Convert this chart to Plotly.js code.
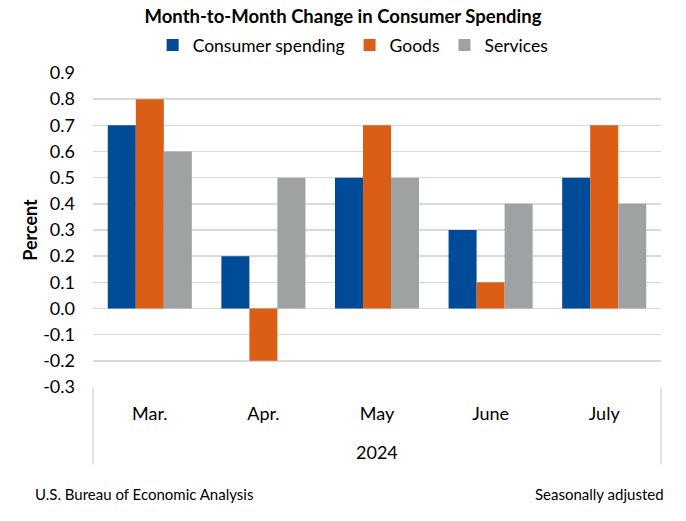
<!DOCTYPE html>
<html>
<head>
<meta charset="utf-8">
<script src="https://cdn.plot.ly/plotly-3.0.1.min.js"></script>
<style>html,body{margin:0;padding:0;background:#fff;}#chart{width:686px;height:521px;}</style>
</head>
<body>
<div id="chart"></div>
<script>
const months = ["Mar.", "Apr.", "May", "June", "July"];
const consumerSpending = [0.7, 0.2, 0.5, 0.3, 0.5];
const goods = [0.8, -0.2, 0.7, 0.1, 0.7];
const services = [0.6, 0.5, 0.5, 0.4, 0.4];
const yTicks = [-0.3, -0.2, -0.1, 0.0, 0.1, 0.2, 0.3, 0.4, 0.5, 0.6, 0.7, 0.8, 0.9];
const yearLabel = "2024";

const FONT = "Lato, 'Open Sans', sans-serif";
const traces = [
  {type: "bar", name: "Consumer spending", x: months, y: consumerSpending, marker: {color: "#004B98"}},
  {type: "bar", name: "Goods", x: months, y: goods, marker: {color: "#DA5E16"}},
  {type: "bar", name: "Services", x: months, y: services, marker: {color: "#9FA2A3"}}
];
const layout = {
  width: 686, height: 521,
  margin: {l: 93, r: 25, t: 73, b: 134},
  paper_bgcolor: "#fff", plot_bgcolor: "#fff",
  font: {family: FONT, color: "#000", size: 18},
  title: {text: "<b>Month-to-Month Change in Consumer Spending</b>", x: 0.5, xanchor: "center", y: 0.969, yanchor: "middle", font: {size: 18.5, family: FONT, color: "#000"}},
  showlegend: true,
  legend: {orientation: "h", x: 0.458, xanchor: "center", y: 1.089, yanchor: "middle", font: {size: 17.5}, itemwidth: 30, tracegroupgap: 0, itemclick: false},
  barmode: "group",
  bargap: 0.26,
  bargroupgap: 0,
  xaxis: {
    type: "category", showgrid: false, zeroline: false, showline: false,
    ticks: "outside", ticklen: 10, tickcolor: "rgba(0,0,0,0)",
    tickfont: {size: 18}
  },
  yaxis: {
    range: [-0.3, 0.9], tickvals: yTicks, ticktext: yTicks.map(v => v.toFixed(1)),
    showgrid: true, gridcolor: "#D9D9D9", gridwidth: 1.5,
    zeroline: true, zerolinecolor: "#D9D9D9", zerolinewidth: 1.5,
    showline: false, ticks: "", ticklabelstandoff: 17,
    tickfont: {size: 18},
    title: {text: "<b>Percent</b>", font: {size: 18}, standoff: 0}
  },
  shapes: [
    {type: "line", xref: "paper", yref: "paper", x0: 0, x1: 0, y0: 0, y1: -0.248, line: {color: "#D9D9D9", width: 1.5}},
    {type: "line", xref: "paper", yref: "paper", x0: 1, x1: 1, y0: 0, y1: -0.248, line: {color: "#D9D9D9", width: 1.5}}
  ],
  annotations: [
    {text: yearLabel, xref: "paper", yref: "paper", x: 0.5, y: -0.207, xanchor: "center", yanchor: "middle", showarrow: false, font: {size: 18}},
    {text: "U.S. Bureau of Economic Analysis", xref: "paper", yref: "paper", x: -0.106, y: -0.34, xanchor: "left", yanchor: "middle", showarrow: false, font: {size: 15}},
    {text: "Seasonally adjusted", xref: "paper", yref: "paper", x: 1.008, y: -0.34, xanchor: "right", yanchor: "middle", showarrow: false, font: {size: 15}}
  ]
};
Plotly.newPlot("chart", traces, layout, {displayModeBar: false, staticPlot: true});
</script>
</body>
</html>
